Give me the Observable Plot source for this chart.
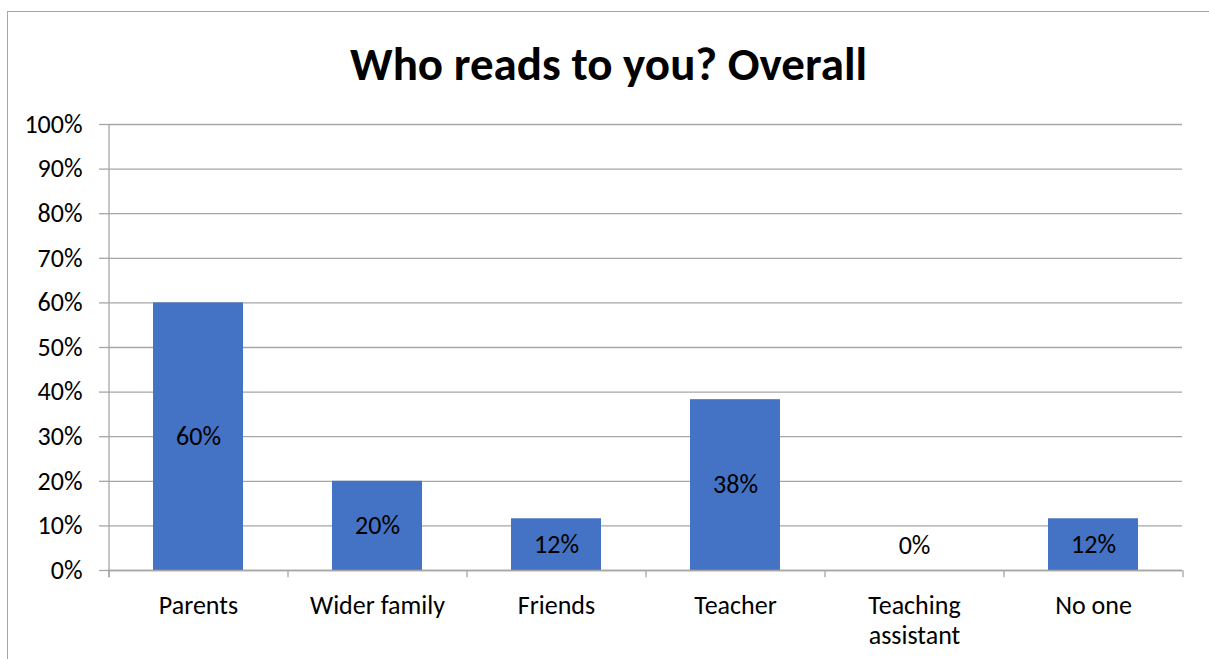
<!DOCTYPE html>
<html>
<head>
<meta charset="utf-8">
<script src="https://cdn.jsdelivr.net/npm/d3@7"></script>
<script src="https://cdn.jsdelivr.net/npm/@observablehq/plot@0.6"></script>
<style>
  html, body { margin: 0; padding: 0; background: #fff; }
  body { width: 1209px; height: 659px; position: relative; overflow: hidden; font-family: Carlito, Lato, sans-serif; }
  #frame { position: absolute; left: 7px; top: 11px; width: 1220px; height: 700px; border: 1.5px solid #a6a6a6; box-sizing: border-box; }
  #title { position: absolute; left: 0; width: 1217px; top: 34px; text-align: center; font-size: 47px; line-height: 60px; font-weight: bold; color: #000; }
  #chart { position: absolute; left: 0; top: 0; }
</style>
</head>
<body>
<div id="frame"></div>
<div id="title">Who reads to you? Overall</div>
<div id="chart"></div>
<script>
const categories = ["Parents", "Wider family", "Friends", "Teacher", "Teaching assistant", "No one"];
const categoryLabels = ["Parents", "Wider family", "Friends", "Teacher", "Teaching\nassistant", "No one"];
const values = [0.60, 0.20, 0.116, 0.383, 0.0, 0.116];
const yTicks = [0, 0.1, 0.2, 0.3, 0.4, 0.5, 0.6, 0.7, 0.8, 0.9, 1.0];

const data = categories.map((c, i) => ({category: c, label: categoryLabels[i], value: values[i]}));
const W = 1209, H = 659, mL = 108, mR = 27, mT = 124, mB = 89;
const step = (W - mL - mR) / categories.length;
const fmt = d3.format(".0%");
const gridColor = "#a6a6a6";

const plot = Plot.plot({
  width: W, height: H,
  marginLeft: mL, marginRight: mR, marginTop: mT, marginBottom: mB,
  style: {fontFamily: "Carlito, Lato, sans-serif", fontSize: "26px", color: "#000", background: "transparent"},
  x: {domain: categories, paddingInner: 0.5, paddingOuter: 0.25, axis: null},
  y: {domain: [0, 1], axis: null},
  marks: [
    Plot.gridY(yTicks, {stroke: gridColor, strokeOpacity: 1, strokeWidth: 1.3}),
    Plot.axisY(yTicks, {tickFormat: fmt, tickSize: 9, tickPadding: 17, stroke: gridColor, strokeWidth: 1.3, fontSize: 26, fill: "#000", label: null}),
    Plot.barY(data, {x: "category", y: "value", fill: "#4472C4"}),
    Plot.ruleY([0], {stroke: gridColor, strokeWidth: 1.3}),
    Plot.ruleX(data, {x: "category", y1: 0, y2: -0.016, dx: -step / 2, stroke: gridColor, strokeWidth: 1.3}),
    Plot.ruleX(data.slice(-1), {x: "category", y1: 0, y2: -0.016, dx: step / 2, stroke: gridColor, strokeWidth: 1.3}),
    Plot.ruleX(data.slice(0, 1), {x: "category", y1: -0.016, y2: 1, dx: -step / 2, stroke: gridColor, strokeWidth: 1.3}),
    Plot.text(data.filter(d => d.value > 0), {x: "category", y: d => d.value / 2, text: d => fmt(d.value), fill: "#000", fontSize: 26}),
    Plot.text(data.filter(d => d.value === 0), {x: "category", y: 0, dy: -25, text: d => fmt(d.value), fill: "#000", fontSize: 26}),
    Plot.text(data, {x: "category", y: 0, text: "label", dy: 22, lineAnchor: "top", lineHeight: 1.15, fill: "#000", fontSize: 26})
  ]
});
document.getElementById("chart").appendChild(plot);
</script>
</body>
</html>
